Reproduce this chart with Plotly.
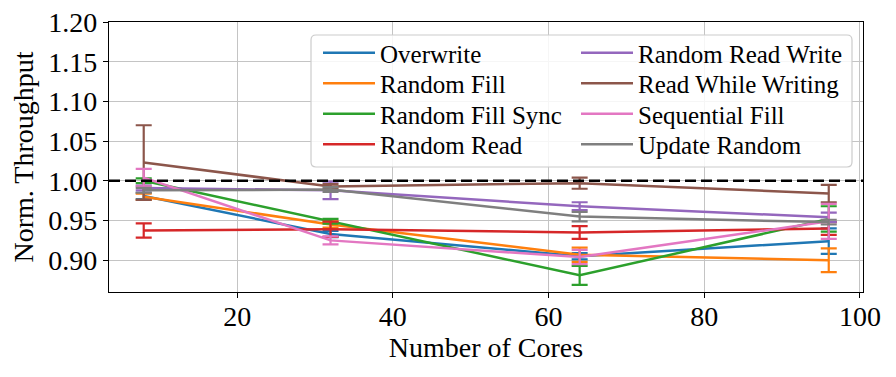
import plotly.graph_objects as go

cores = [8, 32, 64, 96]

series_names = [
    "Overwrite", "Random Fill", "Random Fill Sync", "Random Read",
    "Random Read Write", "Read While Writing", "Sequential Fill", "Update Random",
]
colors = ["#1f77b4", "#ff7f0e", "#2ca02c", "#d62728",
          "#9467bd", "#8c564b", "#e377c2", "#7f7f7f"]

overwrite = [0.981, 0.933, 0.905, 0.924]
overwrite_err = [0.004, 0.004, 0.004, 0.016]
random_fill = [0.980, 0.945, 0.907, 0.900]
random_fill_err = [0.004, 0.004, 0.009, 0.015]
random_fill_sync = [1.000, 0.949, 0.881, 0.952]
random_fill_sync_err = [0.003, 0.003, 0.012, 0.016]
random_read = [0.9375, 0.939, 0.935, 0.940]
random_read_err = [0.009, 0.0095, 0.008, 0.008]
random_read_write = [0.991, 0.988, 0.968, 0.954]
random_read_write_err = [0.003, 0.011, 0.005, 0.006]
read_while_writing = [1.023, 0.993, 0.997, 0.984]
read_while_writing_err = [0.047, 0.003, 0.007, 0.011]
sequential_fill = [1.004, 0.925, 0.904, 0.949]
sequential_fill_err = [0.011, 0.005, 0.009, 0.022]
update_random = [0.988, 0.989, 0.955, 0.948]
update_random_err = [0.003, 0.003, 0.006, 0.003]

values = [overwrite, random_fill, random_fill_sync, random_read,
          random_read_write, read_while_writing, sequential_fill, update_random]
errors = [overwrite_err, random_fill_err, random_fill_sync_err, random_read_err,
          random_read_write_err, read_while_writing_err, sequential_fill_err, update_random_err]

FONT = "Liberation Serif, Times New Roman, serif"

# page has an 8px body margin; plot area on screen: x 109..863, y 22..292
OFF = 8
W, H = 896 - OFF, 377 - OFF
L, R, T, B = 109 - OFF, 33, 22 - OFF, 85
PW, PH = W - L - R, H - T - B


def px(sx):
    return (sx - OFF - L) / PW


def py(sy):
    return (H - B - (sy - OFF)) / PH


fig = go.Figure()
legend_ids = ["legend"] + [f"legend{k}" for k in range(2, 9)]
for i, (name, col, v, e) in enumerate(zip(series_names, colors, values, errors)):
    fig.add_trace(go.Scatter(
        x=cores, y=v, name=name, mode="lines",
        line=dict(color=col, width=2.5),
        error_y=dict(type="data", array=e, visible=True, color=col,
                     thickness=2.2, width=8),
        legend=legend_ids[i], showlegend=True,
    ))

# legend frame (rounded)
x0, x1 = px(311), px(852)
y0, y1 = py(167), py(35)
rx, ry = 5 / PW, 5 / PH
path = (f"M {x0+rx},{y1} L {x1-rx},{y1} Q {x1},{y1} {x1},{y1-ry} "
        f"L {x1},{y0+ry} Q {x1},{y0} {x1-rx},{y0} L {x0+rx},{y0} "
        f"Q {x0},{y0} {x0},{y0+ry} L {x0},{y1-ry} Q {x0},{y1} {x0+rx},{y1} Z")

legend_layout = {}
row_y = [53, 83.5, 114, 144.5]
col_x = [318, 576]
for i, lid in enumerate(legend_ids):
    legend_layout[lid] = dict(
        x=px(col_x[i // 4]), y=py(row_y[i % 4]), xanchor="left", yanchor="middle",
        bgcolor="rgba(0,0,0,0)", borderwidth=0, itemwidth=52,
        font=dict(family=FONT, size=25, color="black"), tracegroupgap=0,
        visible=True,
    )

fig.update_layout(
    width=W, height=H, showlegend=True,
    margin=dict(l=L, r=R, t=T, b=B, autoexpand=False),
    paper_bgcolor="white", plot_bgcolor="white",
    font=dict(family=FONT, size=28, color="black"),
    shapes=[
        dict(type="line", xref="paper", yref="y", x0=0, x1=1, y0=1.0, y1=1.0,
             line=dict(color="black", width=2.6, dash="11px,5px"), layer="above"),
        dict(type="path", xref="paper", yref="paper", path=path,
             fillcolor="rgba(255,255,255,0.85)", line=dict(color="#cccccc", width=1.2),
             layer="above"),
    ],
    **legend_layout,
)

fig.update_xaxes(
    range=[3.54, 100.4], tickvals=[20, 40, 60, 80, 100],
    showgrid=True, gridcolor="#c4c4c4", gridwidth=1,
    showline=True, linecolor="black", linewidth=1.3, mirror=True,
    ticks="outside", ticklen=5, tickcolor="black", tickwidth=1.3,
    zeroline=False, automargin=False, ticklabeloverflow="allow",
    ticklabelstandoff=-6,
    tickfont=dict(family=FONT, size=28),
    title=dict(text="Number of Cores", font=dict(family=FONT, size=28), standoff=4),
)
fig.update_yaxes(
    range=[0.86, 1.20], tickvals=[0.90, 0.95, 1.00, 1.05, 1.10, 1.15, 1.20],
    tickformat=".2f",
    showgrid=True, gridcolor="#c4c4c4", gridwidth=1,
    showline=True, linecolor="black", linewidth=1.3, mirror=True,
    ticks="outside", ticklen=5, tickcolor="black", tickwidth=1.3,
    zeroline=False, automargin=False, ticklabeloverflow="allow",
    tickfont=dict(family=FONT, size=28),
    title=dict(text="Norm. Throughput", font=dict(family=FONT, size=28), standoff=6),
)

fig.write_html("out.html")
